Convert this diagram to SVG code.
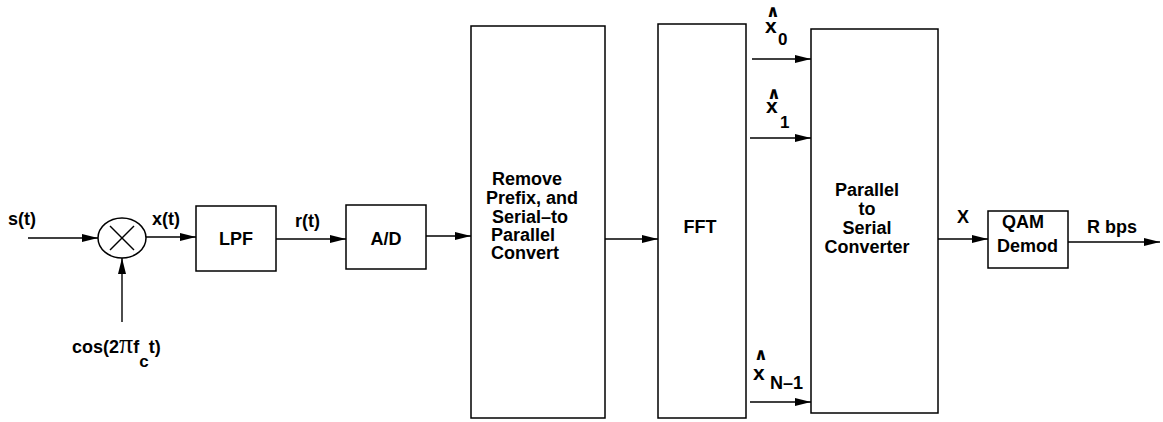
<svg xmlns="http://www.w3.org/2000/svg" width="1163" height="422" viewBox="0 0 1163 422">
<style>
.box{fill:#fff;stroke:#000;stroke-width:1.5}
.ln{fill:none;stroke:#000;stroke-width:1.4}
text{font-family:"Liberation Sans",Arial,sans-serif;font-weight:bold;font-size:18px;fill:#000}
.sub{font-size:17px}
.xv{font-size:21px}
.hat{font-family:"DejaVu Sans",sans-serif;font-size:17px}
</style>
<defs>
<marker id="ah" markerUnits="userSpaceOnUse" markerWidth="18" markerHeight="10" refX="16" refY="5" orient="auto">
<path d="M0,1 L16,5 L0,9 z" fill="#000"/>
</marker>
</defs>
<rect width="1163" height="422" fill="#fff"/>
<g id="connectors">
<line class="ln" x1="28" y1="238" x2="98" y2="238" marker-end="url(#ah)"/>
<line class="ln" x1="122" y1="322" x2="122" y2="258" marker-end="url(#ah)"/>
<line class="ln" x1="146" y1="237" x2="196" y2="237" marker-end="url(#ah)"/>
<line class="ln" x1="276" y1="239" x2="346" y2="239" marker-end="url(#ah)"/>
<line class="ln" x1="426" y1="236" x2="471" y2="236" marker-end="url(#ah)"/>
<line class="ln" x1="605" y1="239" x2="658" y2="239" marker-end="url(#ah)"/>
<line class="ln" x1="752" y1="59" x2="811" y2="59" marker-end="url(#ah)"/>
<line class="ln" x1="750" y1="138" x2="811" y2="138" marker-end="url(#ah)"/>
<line class="ln" x1="750" y1="402" x2="811" y2="402" marker-end="url(#ah)"/>
<line class="ln" x1="938" y1="239" x2="988" y2="239" marker-end="url(#ah)"/>
<line class="ln" x1="1068" y1="242" x2="1160" y2="242" marker-end="url(#ah)"/>
</g>
<g id="labels">
<text x="8" y="225">s(t)</text>
<text x="152" y="225">x(t)</text>
<text x="295" y="227">r(t)</text>
<text x="72" y="353">cos(2<tspan font-family="'Liberation Serif',serif" font-weight="normal" font-size="28px">π</tspan>f<tspan class="sub" dy="14">c</tspan><tspan dy="-14">t)</tspan></text>
<text><tspan class="hat" x="766" y="17">∧</tspan><tspan class="xv" x="765" y="33">x</tspan><tspan class="sub" x="778" y="45">0</tspan></text>
<text><tspan class="hat" x="767" y="99">∧</tspan><tspan class="xv" x="766" y="113">x</tspan><tspan class="sub" x="780" y="128">1</tspan></text>
<text><tspan class="hat" x="754" y="360">∧</tspan><tspan class="xv" x="753" y="380">x</tspan><tspan x="770" y="389">N–1</tspan></text>
<text x="957" y="223">X</text>
<text x="1087" y="233">R bps</text>
</g>
<g id="mixer">
<ellipse cx="122" cy="238" rx="24" ry="20" class="box"/>
<line class="ln" x1="110" y1="226" x2="134" y2="250"/>
<line class="ln" x1="134" y1="226" x2="110" y2="250"/>
</g>
<g id="lpf">
<rect class="box" x="196" y="206" width="80" height="65"/>
<text x="236" y="245" text-anchor="middle">LPF</text>
</g>
<g id="ad">
<rect class="box" x="346" y="205" width="80" height="64"/>
<text x="386" y="245" text-anchor="middle">A/D</text>
</g>
<g id="remove">
<rect class="box" x="471" y="26" width="134" height="392"/>
<text x="492" y="185">Remove</text>
<text x="486" y="204">Prefix, and</text>
<text x="492" y="223">Serial–to</text>
<text x="491" y="241">Parallel</text>
<text x="491" y="259">Convert</text>
</g>
<g id="fft">
<rect class="box" x="658" y="24" width="88" height="394"/>
<text x="700" y="233" text-anchor="middle">FFT</text>
</g>
<g id="p2s">
<rect class="box" x="811" y="29" width="127" height="384"/>
<text x="867" y="196" text-anchor="middle">Parallel</text>
<text x="867" y="215" text-anchor="middle">to</text>
<text x="867" y="234" text-anchor="middle">Serial</text>
<text x="867" y="253" text-anchor="middle">Converter</text>
</g>
<g id="qam">
<rect class="box" x="988" y="211" width="80" height="57"/>
<text x="1002" y="228">QAM</text>
<text x="997" y="252">Demod</text>
</g>
</svg>
